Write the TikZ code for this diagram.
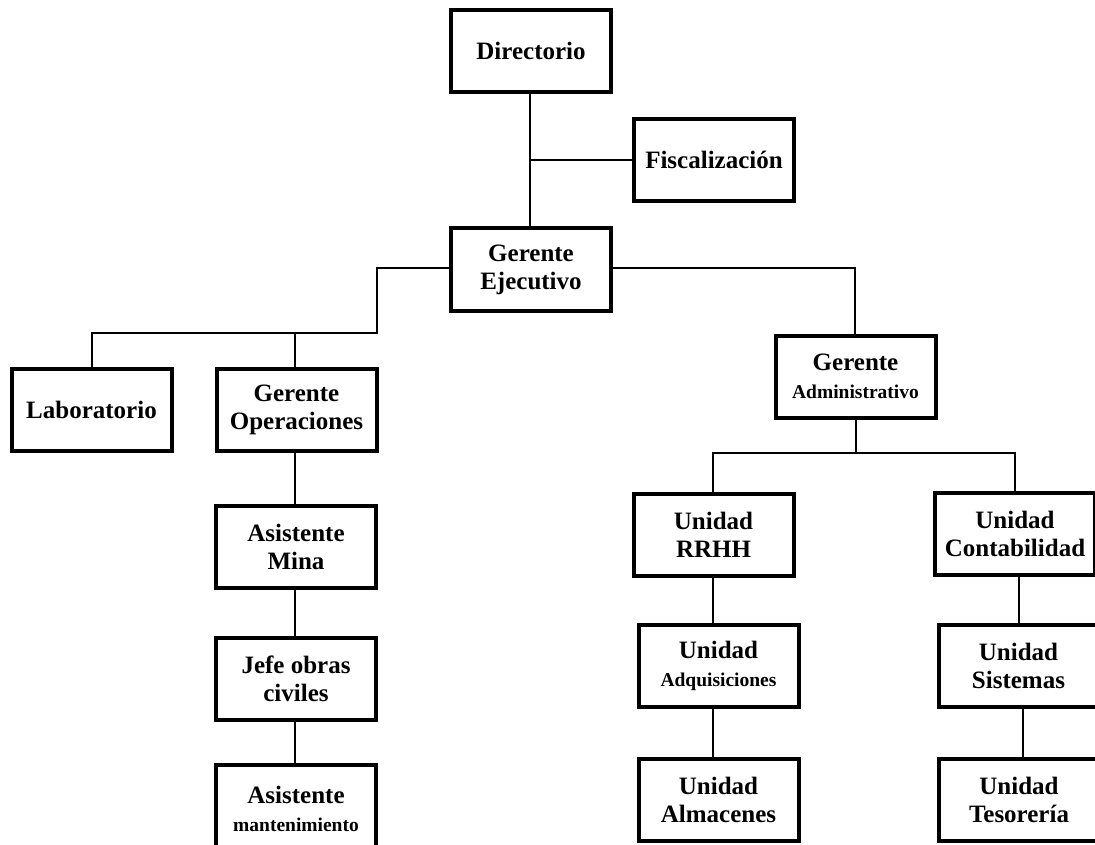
\documentclass[tikz,border=0pt]{standalone}
\usepackage{fontspec}
\setmainfont{Liberation Serif}
\begin{document}
\begin{tikzpicture}[x=1pt,y=-1pt,
  box/.style={draw, line width=4pt, fill=white, align=center, inner sep=0pt,
    minimum width=160pt, minimum height=82pt,
    font=\fontsize{25}{28}\selectfont\bfseries},
  conn/.style={line width=2.7pt}]
\useasboundingbox (0,0) rectangle (1095,845);
\clip (0,0) rectangle (1095,845);
\fill[white] (0,0) rectangle (1095,845);
\newcommand{\smalltxt}[1]{{\fontsize{19.5}{24}\selectfont #1}}
% nodes
\node[box] (dir) at (531,51) {Directorio};
\node[box] (fis) at (714,160) {Fiscalización};
\node[box] (gej) at (531,269.5) {Gerente\\Ejecutivo};
\node[box] (lab) at (91.5,409.5) {Laboratorio};
\node[box] (gop) at (296.5,409.5) {Gerente\\Operaciones};
\node[box] (ami) at (296,546.5) {Asistente\\Mina};
\node[box] (jef) at (296,678.5) {Jefe obras\\civiles};
\node[box, minimum height=88pt] (ama) at (296,809) {Asistente\\\smalltxt{mantenimiento}};
\node[box] (gad) at (855.5,376.5) {Gerente\\\smalltxt{Administrativo}};
\node[box] (rrh) at (713.5,535) {Unidad\\RRHH};
\node[box] (con) at (1015,534) {Unidad\\Contabilidad};
\node[box] (adq) at (718.5,666) {Unidad\\\smalltxt{Adquisiciones}};
\node[box] (alm) at (718.5,800) {Unidad\\Almacenes};
\node[box] (sis) at (1018.5,665.5) {Unidad\\Sistemas};
\node[box] (tes) at (1019,800) {Unidad\\Tesorería};
% helper coordinates
\coordinate (fj) at (530,160);
\coordinate (lj) at (377,268);
\coordinate (lh) at (377,333);
\coordinate (rj) at (855,268);
\coordinate (ah) at (856,453);
% connectors
\draw[conn] (530,0 |- dir.south) -- (530,0 |- gej.north);
\draw[conn] (fj) -- (fis.west);
\draw[conn] (gej.west |- lj) -- (lj) -- (lh) -- (92,333) -- (92,0 |- lab.north);
\draw[conn] (295,333) -- (295,0 |- gop.north);
\draw[conn] (gej.east |- rj) -- (rj) -- (rj |- gad.north);
\draw[conn] (ah |- gad.south) -- (ah);
\draw[conn] (713,0 |- rrh.north) -- (713,453) -- (1015,453) -- (1015,0 |- con.north);
\draw[conn] (295,0 |- gop.south) -- (295,0 |- ami.north);
\draw[conn] (295,0 |- ami.south) -- (295,0 |- jef.north);
\draw[conn] (295,0 |- jef.south) -- (295,0 |- ama.north);
\draw[conn] (713,0 |- rrh.south) -- (713,0 |- adq.north);
\draw[conn] (713,0 |- adq.south) -- (713,0 |- alm.north);
\draw[conn] (1019,0 |- con.south) -- (1019,0 |- sis.north);
\draw[conn] (1023,0 |- sis.south) -- (1023,0 |- tes.north);
\end{tikzpicture}
\end{document}
